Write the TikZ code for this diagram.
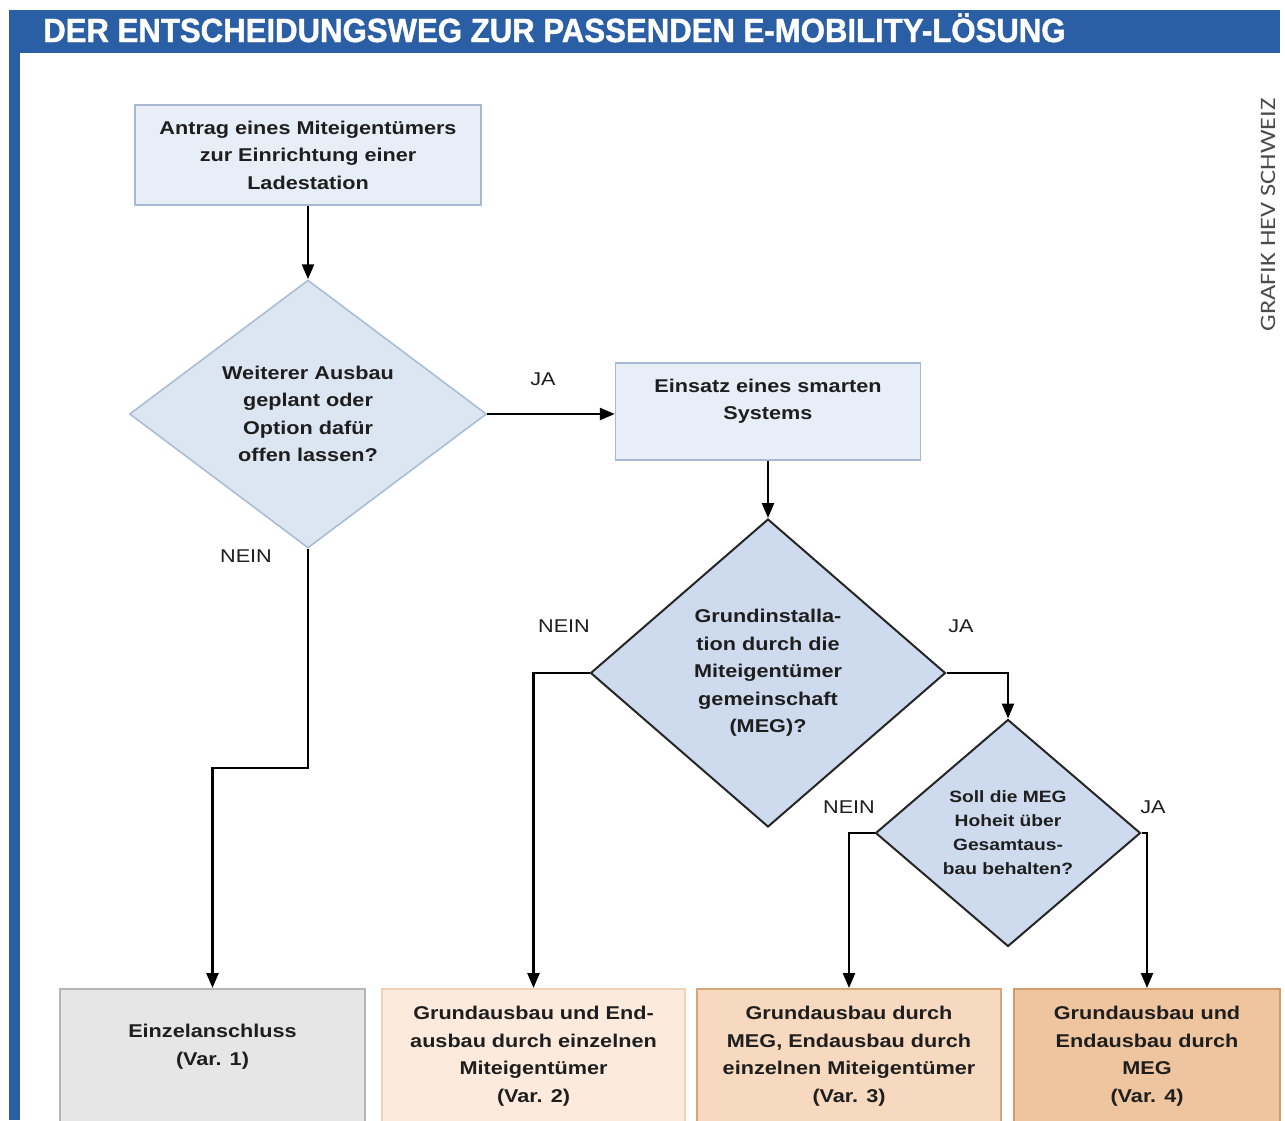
\documentclass[tikz,border=0pt]{standalone}
\usepackage{fontspec}
\setmainfont{Liberation Sans}[FakeStretch=1.17]
\newfontfamily\titlefont{Liberation Sans}[FakeStretch=0.93,FakeBold=1.2]
\newfontfamily\creditfont{Carlito}[FakeStretch=1.2]
\usetikzlibrary{shapes.geometric,arrows.meta}
\definecolor{titleblue}{HTML}{2B5FA5}
\definecolor{txt}{HTML}{1E1E1E}
\definecolor{boxfill}{HTML}{E8EEF8}
\definecolor{boxline}{HTML}{A8B8D0}
\definecolor{dAfill}{HTML}{DCE5F2}
\definecolor{dAline}{HTML}{A9BBD3}
\definecolor{dBfill}{HTML}{CEDBEE}
\definecolor{vAfill}{HTML}{E6E6E6}
\definecolor{vAline}{HTML}{B5B5B5}
\definecolor{vBfill}{HTML}{FCEBDD}
\definecolor{vBline}{HTML}{F0D2B8}
\definecolor{vCfill}{HTML}{F6D9BE}
\definecolor{vCline}{HTML}{D8A577}
\definecolor{vDfill}{HTML}{EEC59E}
\definecolor{vDline}{HTML}{D39B68}
\tikzset{
  body/.style={font=\fontsize{18.5}{27.5}\selectfont\bfseries, text=txt, align=center},
  procbox/.style={body, draw=boxline, fill=boxfill, line width=1.5pt, inner sep=0pt},
  decA/.style={body, diamond, draw=dAline, fill=dAfill, line width=1.5pt, inner sep=0pt},
  decB/.style={body, diamond, draw=black!85, fill=dBfill, line width=2pt, inner sep=0pt},
  endbox/.style={body, line width=2pt, inner sep=0pt, anchor=north, minimum width=305pt, minimum height=134pt},
  lab/.style={font=\fontsize{18.5}{22}\selectfont, text=txt},
  conn/.style={line width=2.5pt, draw=black},
  arr/.style={conn, -{Triangle[length=15pt,width=12pt]}}
}
\begin{document}
\begin{tikzpicture}[x=1pt, y=-1pt]
\fill[white] (0,0) rectangle (1285,1120);
\useasboundingbox (0,0) rectangle (1285,1120);
% frame
\fill[titleblue] (9,10) rectangle (1280,53);
\fill[titleblue] (9,53) rectangle (20,1120);
\node[anchor=base west, inner sep=0pt, text=white, font=\titlefont\fontsize{33.5}{36}\selectfont\bfseries] (title) at (43,42) {DER ENTSCHEIDUNGSWEG ZUR PASSENDEN E-MOBILITY-LÖSUNG};
\node[rotate=90, inner sep=0pt, text=black!70, font=\creditfont\fontsize{22}{24}\selectfont] (credit) at (1268,215) {GRAFIK HEV SCHWEIZ};

% process boxes
\node[procbox, minimum width=346pt, minimum height=100pt] (start) at (308,155)
  {Antrag eines Miteigentümers\\zur Einrichtung einer\\Ladestation};
\node[procbox, minimum width=305pt, minimum height=97pt, text depth=24pt] (smart) at (768,411.5)
  {Einsatz eines smarten\\Systems};

% decisions
\node[decA, minimum width=357pt, minimum height=268pt] (d1) at (308,414)
  {Weiterer Ausbau\\geplant oder\\Option dafür\\offen lassen?};
\node[decB, minimum width=355pt, minimum height=308pt] (d2) at (768,673)
  {Grundinstalla-\\tion durch die\\Miteigentümer\\gemeinschaft\\(MEG)?};
\node[decB, minimum width=265pt, minimum height=227pt, font=\fontsize{16.4}{24}\selectfont\bfseries] (d3) at (1008,833)
  {Soll die MEG\\Hoheit über\\Gesamtaus-\\bau behalten?};

% end boxes
\node[endbox, draw=vAline, fill=vAfill, text depth=22pt] (vA) at (212.5,988)
  {Einzelanschluss\\(Var. 1)};
\node[endbox, draw=vBline, fill=vBfill, minimum width=303pt] (vB) at (533.5,988)
  {Grundausbau und End-\\ausbau durch einzelnen\\Miteigentümer\\(Var. 2)};
\node[endbox, draw=vCline, fill=vCfill, minimum width=304pt] (vC) at (849,988)
  {Grundausbau durch\\MEG, Endausbau durch\\einzelnen Miteigentümer\\(Var. 3)};
\node[endbox, draw=vDline, fill=vDfill, minimum width=266pt] (vD) at (1147,988)
  {Grundausbau und\\Endausbau durch\\MEG\\(Var. 4)};

% connectors
\draw[arr] (start.south) -- (d1.north);
\draw[arr] (d1.east) -- (d1.east -| smart.west);
\draw[arr] (smart.south) -- (d2.north);
\coordinate (k1) at (308,768);
\draw[arr] (d1.south) -- (k1) -| (vA.north);
\draw[arr] (d2.west) -| (vB.north);
\draw[arr] (d2.east) -| (d3.north);
\draw[arr] (d3.west) -| (vC.north);
\draw[arr] (d3.east) -| (vD.north);

% labels
\node[lab] (ja1) at (543,379) {JA};
\node[lab] (nein1) at (246,556) {NEIN};
\node[lab] (nein2) at (564,626) {NEIN};
\node[lab] (ja2) at (961,626) {JA};
\node[lab] (nein3) at (849,807) {NEIN};
\node[lab] (ja3) at (1153,807) {JA};
\end{tikzpicture}
\end{document}
